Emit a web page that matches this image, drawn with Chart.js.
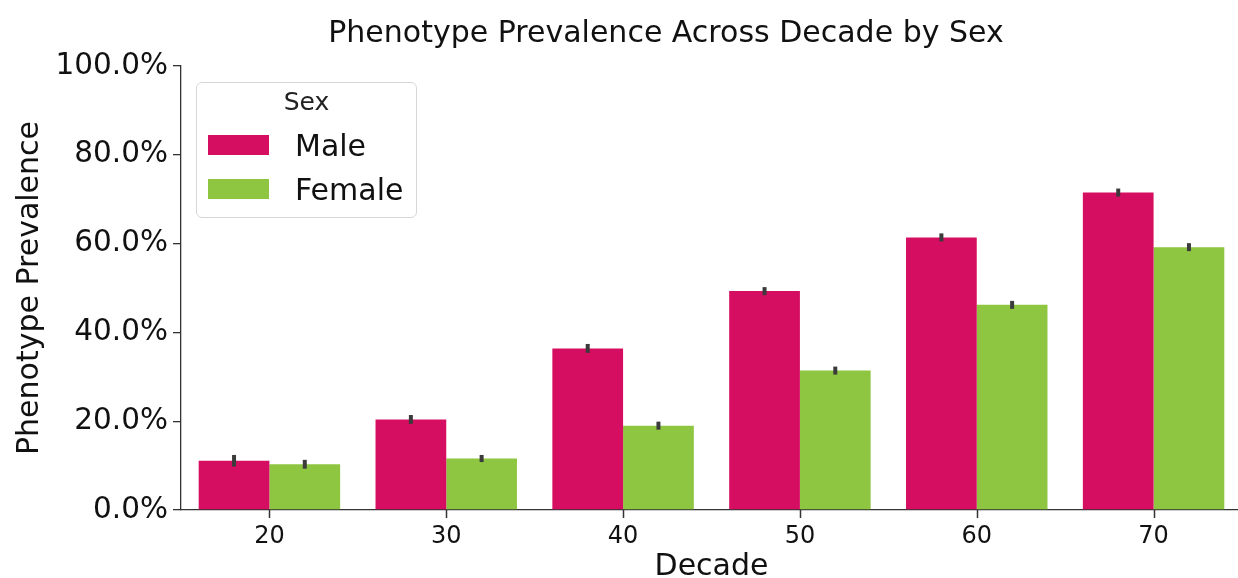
<!DOCTYPE html>
<html>
<head>
<meta charset="utf-8">
<script src="https://cdn.jsdelivr.net/npm/chart.js@4.4.1/dist/chart.umd.min.js"></script>
<style>
  html, body { margin: 0; padding: 0; background: #fff; overflow: hidden; }
  .chart-container { position: relative; width: 1242px; height: 585px; font-family: "DejaVu Sans", sans-serif; }
  .chart-title { position: absolute; left: 0; width: 1332px; top: 14px; line-height: 36px; text-align: center;
    font-size: 30px; color: #111; white-space: nowrap; }
  .legend-box { position: absolute; left: 196px; top: 82px; width: 221px; height: 136px;
    border: 1px solid #d6d6d6; border-radius: 6px; background: rgba(255,255,255,0.85); box-sizing: border-box; }
  .legend-title { position: absolute; left: 0; right: 0; top: 4px; text-align: center; font-size: 25px; color: #222; }
  .legend-item { position: absolute; left: 11px; height: 30px; display: flex; align-items: center; }
  .legend-swatch { width: 61px; height: 20px; margin-right: 26px; }
  .legend-label { font-size: 30px; color: #111; }
</style>
</head>
<body>
<div class="chart-container">
  <canvas id="prevChart"></canvas>
</div>
<script>
const decades = ['20', '30', '40', '50', '60', '70'];
const seriesNames = ['Male', 'Female'];
const maleValues = [11.1, 20.4, 36.4, 49.3, 61.4, 71.5];
const femaleValues = [10.3, 11.6, 19.0, 31.4, 46.2, 59.2];
const maleErr = [1.3, 1.0, 1.0, 0.9, 0.9, 0.9];
const femaleErr = [1.0, 0.8, 0.9, 0.9, 0.9, 0.9];
const yTicks = [0, 20, 40, 60, 80, 100];
const chartTitle = 'Phenotype Prevalence Across Decade by Sex';

const maleColor = '#D50E62';
const femaleColor = '#8FC641';
const axisColor = '#333';

// error bars on each bar + x tick marks under each category centre
const errorBars = {
    id: 'errorBars',
    afterDraw(chart) {
        const ctx = chart.ctx;
        const yScale = chart.scales.y;
        const xScale = chart.scales.x;
        ctx.save();
        ctx.strokeStyle = '#3b3b3b';
        ctx.lineWidth = 4;
        chart.data.datasets.forEach((ds, i) => {
            const meta = chart.getDatasetMeta(i);
            meta.data.forEach((bar, j) => {
                const v = ds.data[j];
                const e = ds.errors[j];
                ctx.beginPath();
                ctx.moveTo(bar.x, yScale.getPixelForValue(v - e));
                ctx.lineTo(bar.x, yScale.getPixelForValue(v + e));
                ctx.stroke();
            });
        });

        ctx.strokeStyle = axisColor;
        ctx.lineWidth = 1.5;
        const base = chart.chartArea.bottom;
        decades.forEach((d, i) => {
            const px = Math.round(xScale.getPixelForValue(i)) + 0.5;
            ctx.beginPath();
            ctx.moveTo(px, base);
            ctx.lineTo(px, base + 8);
            ctx.stroke();
        });
        ctx.restore();
    }
};

document.addEventListener('DOMContentLoaded', () => {
    const ctx = document.getElementById('prevChart').getContext('2d');
    const chart = new Chart(ctx, {
        type: 'bar',
        data: {
            labels: decades,
            datasets: [{
                label: seriesNames[0],
                data: maleValues,
                errors: maleErr,
                backgroundColor: maleColor,
                categoryPercentage: 0.8,
                barPercentage: 1.0
            }, {
                label: seriesNames[1],
                data: femaleValues,
                errors: femaleErr,
                backgroundColor: femaleColor,
                categoryPercentage: 0.8,
                barPercentage: 1.0
            }]
        },
        options: {
            responsive: true,
            maintainAspectRatio: false,
            animation: false,
            layout: { padding: { top: 66 } },
            scales: {
                x: {
                    afterFit: (scale) => { scale.height = 75; },
                    grid: { display: true, drawOnChartArea: false, drawTicks: true, tickLength: 8, color: 'rgba(0,0,0,0)' },
                    border: { display: true, color: axisColor, width: 1.3 },
                    ticks: { color: '#111', padding: 4, font: { family: 'DejaVu Sans', size: 24 } },
                    title: {
                        display: true,
                        text: 'Decade',
                        color: '#111',
                        font: { family: 'DejaVu Sans', size: 30 },
                        padding: { top: 0, bottom: 0 }
                    }
                },
                y: {
                    min: 0,
                    max: 100,
                    afterFit: (scale) => { scale.width = 181; },
                    afterBuildTicks: (scale) => { scale.ticks = yTicks.map(v => ({ value: v })); },
                    grid: { display: true, drawOnChartArea: false, drawTicks: true, tickLength: 8, color: axisColor, lineWidth: 1.3 },
                    border: { display: true, color: axisColor, width: 1.3 },
                    ticks: {
                        color: '#111',
                        padding: 5,
                        font: { family: 'DejaVu Sans', size: 29.5 },
                        callback: (value) => value.toFixed(1) + '%'
                    },
                    title: {
                        display: true,
                        text: 'Phenotype Prevalence',
                        color: '#111',
                        font: { family: 'DejaVu Sans', size: 30 },
                        padding: { top: 12, bottom: 0 }
                    }
                }
            },
            plugins: {
                legend: { display: false },
                tooltip: { enabled: false },
                title: { display: false }
            }
        },
        plugins: [errorBars]
    });

    const container = document.querySelector('.chart-container');

    // figure title sits a bit left of the axes centre, as in the original
    const head = document.createElement('div');
    head.className = 'chart-title';
    head.textContent = chartTitle;
    container.appendChild(head);

    // legend box inside the plot, top-left like seaborn
    const box = document.createElement('div');
    box.className = 'legend-box';
    const title = document.createElement('div');
    title.className = 'legend-title';
    title.textContent = 'Sex';
    box.appendChild(title);

    const colors = [maleColor, femaleColor];
    const tops = [47, 91];
    seriesNames.forEach((name, i) => {
        const item = document.createElement('div');
        item.className = 'legend-item';
        item.style.top = tops[i] + 'px';
        const sw = document.createElement('div');
        sw.className = 'legend-swatch';
        sw.style.background = colors[i];
        const lab = document.createElement('div');
        lab.className = 'legend-label';
        lab.textContent = name;
        item.appendChild(sw);
        item.appendChild(lab);
        box.appendChild(item);
    });
    container.appendChild(box);

    chart.update();
});
</script>
</body>
</html>
